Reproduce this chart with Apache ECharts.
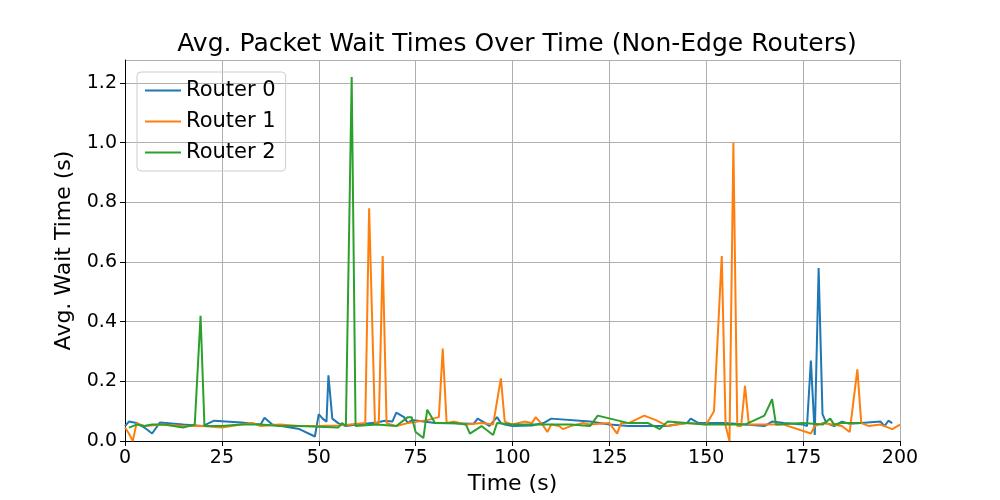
<!DOCTYPE html><html><head><meta charset="utf-8"><script src="https://cdn.jsdelivr.net/npm/echarts@6/dist/echarts.min.js"></script></head><body style="margin:0"><div id="c" style="width:1000px;height:500px"></div><script>
const router0=[[0,0.05],[1,0.065],[3,0.06],[5,0.045],[7,0.025],[9,0.062],[15,0.055],[20,0.05],[23,0.068],[30,0.062],[35,0.055],[36,0.078],[38,0.055],[45,0.04],[49,0.015],[50,0.09],[51,0.075],[52,0.065],[52.5,0.22],[53.5,0.075],[55,0.06],[57,0.05],[60,0.055],[65,0.062],[67,0.068],[69,0.065],[70,0.095],[72,0.08],[73,0.06],[74,0.07],[80,0.06],[90,0.058],[91,0.075],[93,0.06],[94,0.05],[96,0.08],[97,0.06],[98,0.055],[100,0.05],[105,0.052],[108,0.06],[110,0.075],[120,0.065],[125,0.055],[130,0.05],[140,0.05],[142,0.055],[145,0.06],[146,0.075],[148,0.06],[155,0.06],[160,0.055],[165,0.05],[167,0.065],[170,0.06],[175,0.055],[176,0.05],[177,0.27],[178,0.02],[179,0.58],[180,0.09],[181,0.06],[183,0.05],[185,0.065],[187,0.058],[190,0.06],[195,0.065],[196,0.05],[197,0.068],[198,0.06]];
const router1=[[0,0.045],[1,0.025],[2,0.0],[3,0.06],[5,0.05],[10,0.055],[15,0.05],[20,0.05],[25,0.045],[30,0.055],[33,0.06],[35,0.05],[40,0.055],[45,0.05],[50,0.05],[55,0.052],[58,0.055],[60,0.058],[62,0.06],[63,0.78],[64.5,0.06],[65.5,0.06],[66.5,0.62],[67.5,0.06],[70,0.05],[73,0.06],[78,0.07],[81,0.08],[82,0.31],[83,0.06],[85,0.065],[88,0.055],[92,0.06],[95,0.055],[97,0.21],[98,0.065],[100,0.055],[103,0.065],[105,0.06],[106,0.08],[108,0.05],[109,0.03],[110,0.055],[112,0.05],[113,0.04],[115,0.05],[118,0.06],[120,0.055],[125,0.06],[127,0.025],[128,0.06],[130,0.06],[134,0.085],[137,0.07],[140,0.05],[145,0.06],[150,0.055],[152,0.1],[154,0.62],[155,0.05],[156,0.0],[157,1.0],[158,0.05],[159,0.05],[160,0.185],[161,0.055],[165,0.055],[170,0.055],[177,0.025],[178,0.05],[180,0.06],[185,0.05],[187,0.03],[189,0.24],[190,0.06],[192,0.05],[195,0.055],[198,0.04],[200,0.055]];
const router2=[[1,0.045],[3,0.055],[5,0.05],[7,0.055],[10,0.055],[15,0.045],[18,0.055],[19.5,0.42],[20.5,0.05],[25,0.05],[30,0.055],[35,0.055],[40,0.05],[45,0.05],[50,0.048],[55,0.045],[56,0.06],[57,0.05],[58.5,1.22],[59.5,0.05],[65,0.055],[70,0.05],[73,0.08],[74,0.08],[75,0.03],[77,0.01],[78,0.105],[80,0.06],[85,0.06],[88,0.055],[89,0.025],[92,0.05],[95,0.02],[96,0.06],[100,0.055],[105,0.055],[110,0.055],[115,0.055],[120,0.05],[122,0.085],[130,0.06],[135,0.06],[138,0.04],[140,0.065],[145,0.06],[150,0.055],[155,0.055],[160,0.055],[165,0.085],[167,0.14],[168,0.055],[175,0.06],[180,0.055],[182,0.075],[183,0.055],[185,0.06],[190,0.06]];
const names=['Router 0','Router 1','Router 2'];
const colors=['#1f77b4','#ff7f0e','#2ca02c'];
const ch=echarts.init(document.getElementById('c'));
const ax={color:'#000',fontSize:19,fontFamily:'DejaVu Sans'};
const nm={color:'#000',fontSize:22,fontFamily:'DejaVu Sans'};
ch.setOption({animation:false,backgroundColor:'#fff',
title:{text:'Avg. Packet Wait Times Over Time (Non-Edge Routers)',left:512,textAlign:'center',top:27,textStyle:{fontSize:25,fontWeight:'normal',color:'#000',fontFamily:'DejaVu Sans'}},
legend:{left:137,top:72,orient:'vertical',itemGap:10,itemWidth:36,itemHeight:2,icon:'rect',borderColor:'#ccc',borderWidth:1,borderRadius:4,padding:[8,10,8,8],textStyle:{fontSize:21,color:'#000',fontFamily:'DejaVu Sans'},data:names},
grid:{left:125,right:100,top:60,bottom:54},
xAxis:{type:'value',min:0,max:200,interval:25,name:'Time (s)',nameLocation:'middle',nameGap:32,nameTextStyle:nm,axisLabel:ax,axisLine:{onZero:false,lineStyle:{color:'#000'}},axisTick:{lineStyle:{color:'#000'}},splitLine:{lineStyle:{color:'#b0b0b0'}}},
yAxis:{type:'value',min:0,max:1.277,interval:0.2,name:'Avg. Wait Time (s)',nameLocation:'middle',nameGap:50,nameTextStyle:nm,axisLabel:{...ax,formatter:v=>v.toFixed(1),showMaxLabel:false},axisLine:{show:true,lineStyle:{color:'#000'}},axisTick:{show:true,lineStyle:{color:'#000'}},splitLine:{lineStyle:{color:'#b0b0b0'}}},
series:[router0,router1,router2].map((d,i)=>({name:names[i],type:'line',data:d,showSymbol:false,color:colors[i],lineStyle:{width:2}}))
});
</script></body></html>
